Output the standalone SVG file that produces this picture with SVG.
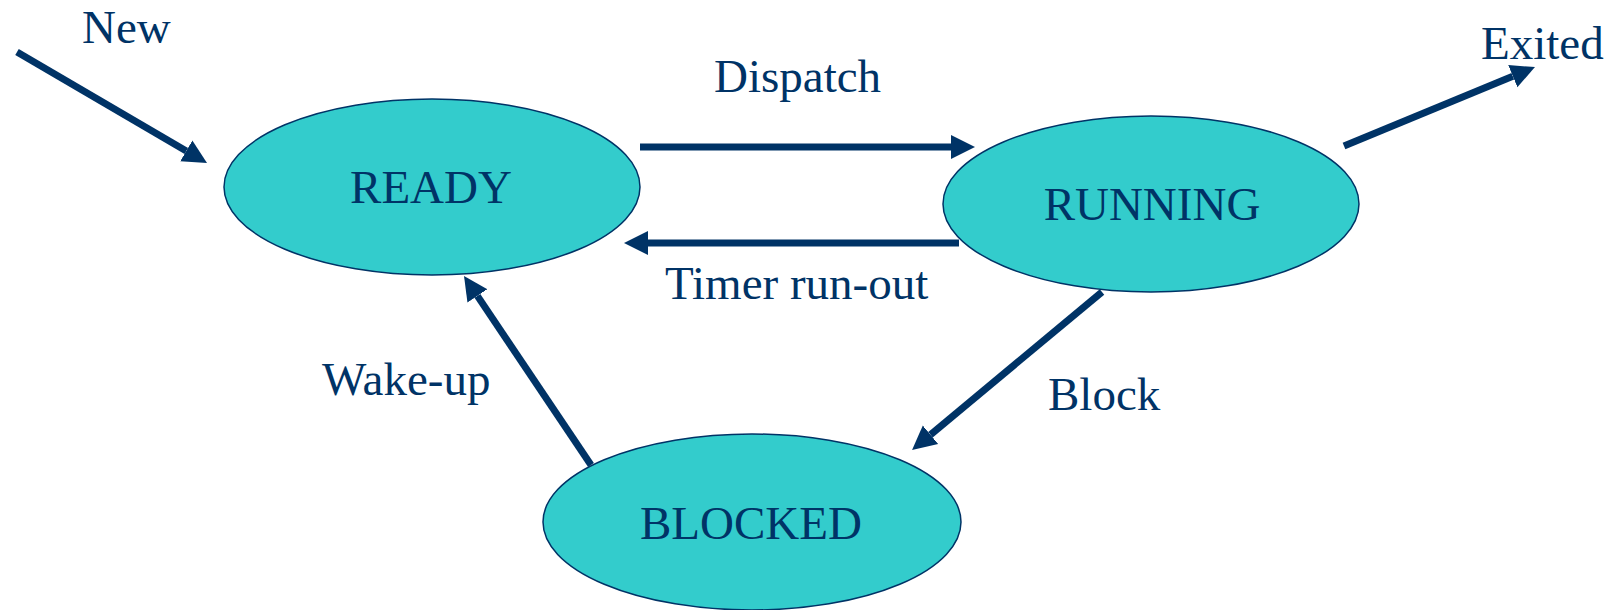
<svg xmlns="http://www.w3.org/2000/svg" width="1616" height="610" viewBox="0 0 1616 610">
<style>
.node ellipse{fill:#33CCCC;stroke:#003366;stroke-width:1.5}
text{font-family:"Liberation Serif","Times New Roman",serif;font-size:47px;fill:#003366}
.c text{text-anchor:middle}
.edge{stroke:#003366;stroke-width:7;fill:none;marker-end:url(#ah)}
</style>
<defs>
<marker id="ah" markerUnits="userSpaceOnUse" markerWidth="26" markerHeight="26" viewBox="0 -13 26 26" refX="0" refY="0" orient="auto">
<path d="M0,-12 L24,0 L0,12 z" fill="#003366"/>
</marker>
</defs>
<rect width="1616" height="610" fill="#ffffff"/>
<g id="connectors">
<line class="edge" x1="17" y1="52" x2="186.3" y2="150.9"/>
<line class="edge" x1="640" y1="147" x2="951" y2="147"/>
<line class="edge" x1="959" y1="243" x2="648" y2="243"/>
<line class="edge" x1="1344" y1="146" x2="1512.8" y2="76.2"/>
<line class="edge" x1="1102" y1="292" x2="930.5" y2="434.7"/>
<line class="edge" x1="591" y1="465" x2="477.4" y2="295.9"/>
</g>
<g id="ready" class="node c">
<ellipse cx="432" cy="187" rx="208" ry="88"/>
<text x="431" y="203">READY</text>
</g>
<g id="running" class="node c">
<ellipse cx="1151" cy="204" rx="208" ry="88"/>
<text x="1152" y="220">RUNNING</text>
</g>
<g id="blocked" class="node c">
<ellipse cx="752" cy="522" rx="209" ry="88"/>
<text x="751" y="539">BLOCKED</text>
</g>
<g id="labels">
<text x="82" y="43">New</text>
<text x="714" y="92">Dispatch</text>
<text x="665" y="299">Timer run-out</text>
<text x="1481" y="59">Exited</text>
<text x="322" y="395">Wake-up</text>
<text x="1048" y="410">Block</text>
</g>
</svg>
